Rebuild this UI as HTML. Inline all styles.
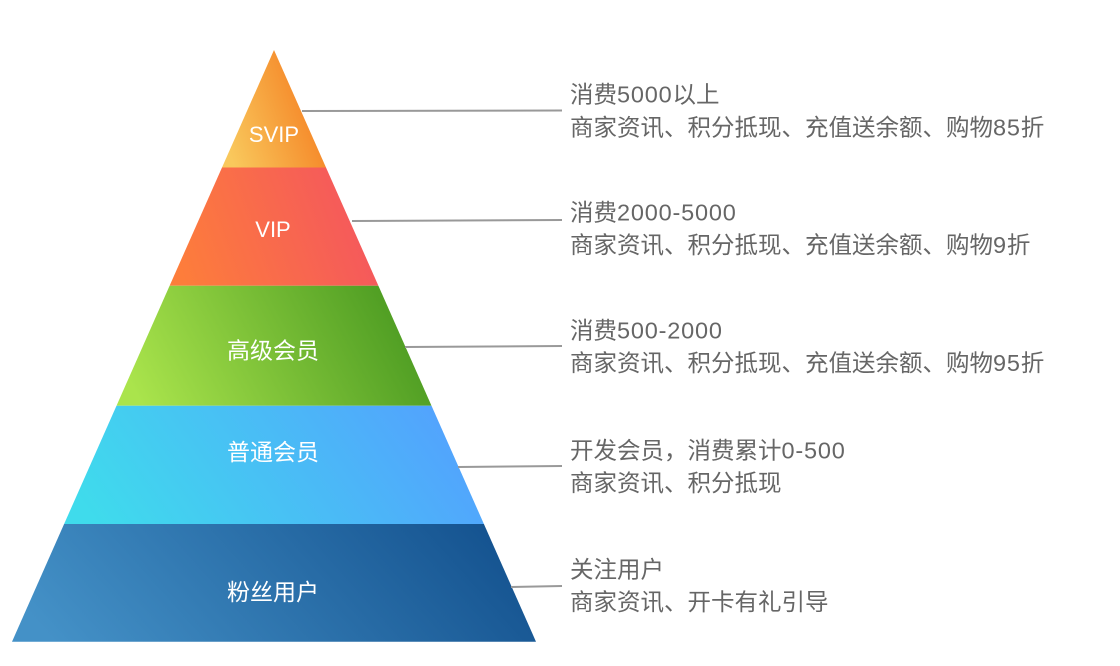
<!DOCTYPE html>
<html>
<head>
<meta charset="utf-8">
<style>
  html,body{margin:0;padding:0;background:#fff;}
  body{width:1120px;height:666px;overflow:hidden;}
  svg{display:block;}
  text{font-family:"Liberation Sans","Noto Sans CJK SC",sans-serif;}
  .n{letter-spacing:0.8px;}
</style>
</head>
<body>
<svg width="1120" height="666" viewBox="0 0 1120 666" xmlns="http://www.w3.org/2000/svg">
  <defs>
    <linearGradient id="g1" x1="0" y1="0.7" x2="1" y2="0.3">
      <stop offset="0" stop-color="#F9C85C"/>
      <stop offset="1" stop-color="#F47A1E"/>
    </linearGradient>
    <linearGradient id="g2" x1="0" y1="0.6" x2="1" y2="0.4">
      <stop offset="0" stop-color="#FD7D3B"/>
      <stop offset="1" stop-color="#F4555F"/>
    </linearGradient>
    <linearGradient id="g3" x1="0" y1="0.6" x2="1" y2="0.4">
      <stop offset="0" stop-color="#AAE44C"/>
      <stop offset="1" stop-color="#489820"/>
    </linearGradient>
    <linearGradient id="g4" x1="0" y1="0.6" x2="1" y2="0.4">
      <stop offset="0" stop-color="#3FDBEC"/>
      <stop offset="1" stop-color="#53A1FE"/>
    </linearGradient>
    <linearGradient id="g5" x1="0" y1="0.6" x2="1" y2="0.4">
      <stop offset="0" stop-color="#4491C7"/>
      <stop offset="1" stop-color="#14528F"/>
    </linearGradient>
  </defs>

  <!-- pyramid layers -->
  <polygon points="274,50 326,167.5 222,167.5" fill="url(#g1)"/>
  <polygon points="222,167.5 326,167.5 378.4,285.7 169.6,285.7" fill="url(#g2)"/>
  <polygon points="169.6,285.7 378.4,285.7 431.5,405.7 116.5,405.7" fill="url(#g3)"/>
  <polygon points="116.5,405.7 431.5,405.7 483.9,524 64.1,524" fill="url(#g4)"/>
  <polygon points="64.1,524 483.9,524 536,641.7 12,641.7" fill="url(#g5)"/>

  <!-- layer labels -->
  <g fill="#ffffff" text-anchor="middle">
    <text x="274" y="142" font-size="22">SVIP</text>
    <text x="273" y="237" font-size="22">VIP</text>
    <text x="273" y="358.5" font-size="23">高级会员</text>
    <text x="273" y="460" font-size="23">普通会员</text>
    <text x="273" y="600" font-size="23">粉丝用户</text>
  </g>

  <!-- connectors -->
  <g stroke="#999999" stroke-width="2" fill="none">
    <line x1="302" y1="111" x2="562" y2="110.5"/>
    <line x1="352" y1="221" x2="562" y2="220"/>
    <line x1="405" y1="347" x2="562" y2="346"/>
    <line x1="458" y1="467" x2="562" y2="466"/>
    <line x1="511" y1="587" x2="562" y2="586"/>
  </g>

  <!-- descriptions -->
  <g fill="#666666" font-size="23.5">
    <text x="570" y="102.5">消费<tspan class="n">5000</tspan>以上</text>
    <text x="570" y="135.5">商家资讯、积分抵现、充值送余额、购物<tspan class="n">85</tspan>折</text>

    <text x="570" y="220.5">消费<tspan class="n">2000-5000</tspan></text>
    <text x="570" y="253">商家资讯、积分抵现、充值送余额、购物<tspan class="n">9</tspan>折</text>

    <text x="570" y="338.5">消费<tspan class="n">500-2000</tspan></text>
    <text x="570" y="371">商家资讯、积分抵现、充值送余额、购物<tspan class="n">95</tspan>折</text>

    <text x="570" y="458.5">开发会员，消费累计<tspan class="n">0-500</tspan></text>
    <text x="570" y="491">商家资讯、积分抵现</text>

    <text x="570" y="577.5">关注用户</text>
    <text x="570" y="610">商家资讯、开卡有礼引导</text>
  </g>
</svg>
</body>
</html>
